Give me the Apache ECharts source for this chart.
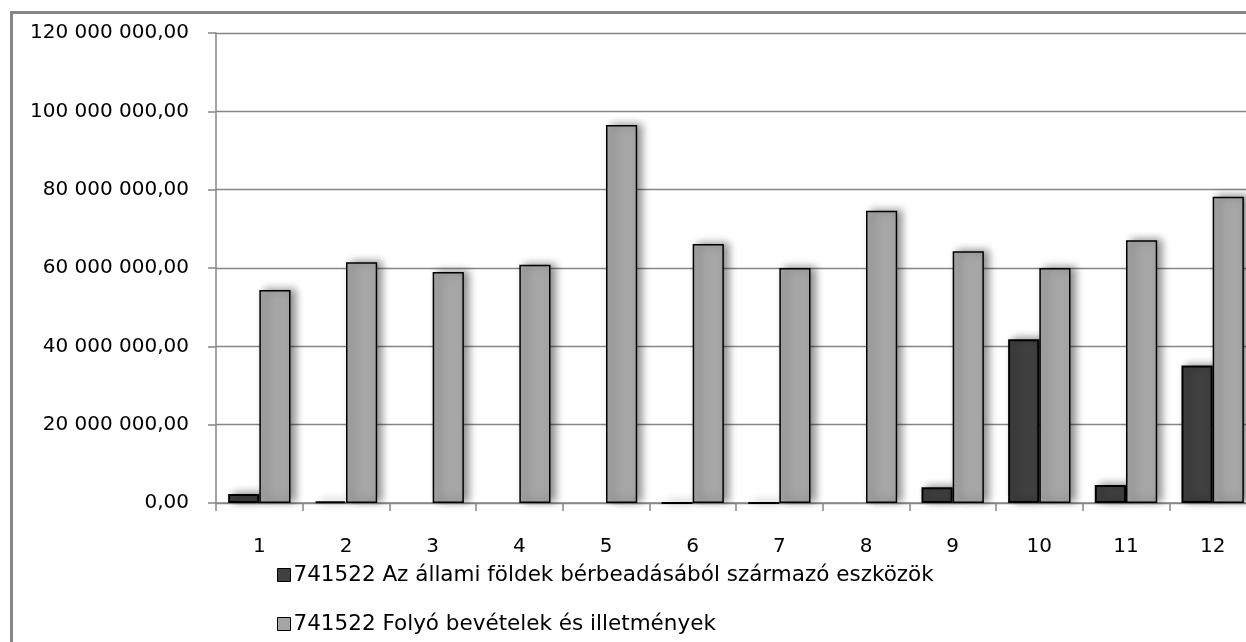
<!DOCTYPE html>
<html>
<head>
<meta charset="utf-8">
<script src="https://cdn.jsdelivr.net/npm/echarts@6/dist/echarts.min.js"></script>
<style>
html,body{margin:0;padding:0;background:#fff;overflow:hidden;width:1246px;height:642px;}
#c{width:1266px;height:642px;}
</style>
</head>
<body>
<div id="c"></div>
<script>
const categories = ['1','2','3','4','5','6','7','8','9','10','11','12'];
const seriesNames = ['741522 Az állami földek bérbeadásából származó eszközök', '741522 Folyó bevételek és illetmények'];
const landValues = [2300000, 400000, 0, 0, 0, 60000, 60000, 0, 4000000, 41800000, 4600000, 35100000];
const currentValues = [54400000, 61500000, 59000000, 60800000, 96500000, 66100000, 60000000, 74600000, 64300000, 60000000, 67100000, 78200000];
const yTicks = [0, 20000000, 40000000, 60000000, 80000000, 100000000, 120000000];

function fmt(v){
  const s = Math.round(v).toString().replace(/\B(?=(\d{3})+(?!\d))/g, ' ');
  return s + ',00';
}

const chart = echarts.init(document.getElementById('c'), null, {renderer:'canvas'});
const shadow = {shadowBlur: 8, shadowColor: 'rgba(0,0,0,0.45)', shadowOffsetX: 5, shadowOffsetY: -1};
chart.setOption({
  animation: false,
  textStyle: {fontFamily: 'DejaVu Sans'},
  graphic: [{
    type: 'rect', left: 9, top: 10, z: -1,
    shape: {width: 1300, height: 700},
    style: {fill: 'none', stroke: '#868686', lineWidth: 3}
  }],
  grid: {left: 216, top: 33, width: 1040, height: 470, containLabel: false},
  legend: {
    orient: 'vertical', left: 272, top: 559,
    itemWidth: 13, itemHeight: 13, itemGap: 27,
    icon: 'rect',
    textStyle: {fontFamily: 'DejaVu Sans', fontSize: 21.5, color: '#000', padding: [0,0,0,-2]},
    itemStyle: {borderColor: '#000', borderWidth: 1},
    data: seriesNames
  },
  xAxis: {
    type: 'category', data: categories,
    axisLine: {lineStyle: {color: '#868686', width: 1.5}},
    axisTick: {show: true, length: 8, lineStyle: {color: '#868686', width: 1.5}},
    axisLabel: {fontSize: 20, color: '#000', margin: 34, fontFamily: 'DejaVu Sans'}
  },
  yAxis: {
    type: 'value', min: yTicks[0], max: yTicks[yTicks.length-1], interval: 20000000,
    axisLine: {show: true, lineStyle: {color: '#868686', width: 1.5}},
    axisTick: {show: true, length: 8, lineStyle: {color: '#868686', width: 1.5}},
    splitLine: {lineStyle: {color: '#868686', width: 1.3}},
    axisLabel: {fontSize: 20, color: '#000', margin: 27, formatter: fmt, fontFamily: 'DejaVu Sans'}
  },
  series: [
    {
      name: seriesNames[0], type: 'bar', barGap: '0%', barCategoryGap: '28%',
      data: landValues.map(v => v === 0 ? null : v),
      itemStyle: Object.assign({color: '#404040', borderColor: '#000', borderWidth: 2}, shadow)
    },
    {
      name: seriesNames[1], type: 'bar', barGap: '0%', barCategoryGap: '28%',
      data: currentValues,
      itemStyle: Object.assign({color: '#a6a6a6', borderColor: '#000', borderWidth: 1.5}, shadow)
    }
  ]
});
</script>
</body>
</html>
